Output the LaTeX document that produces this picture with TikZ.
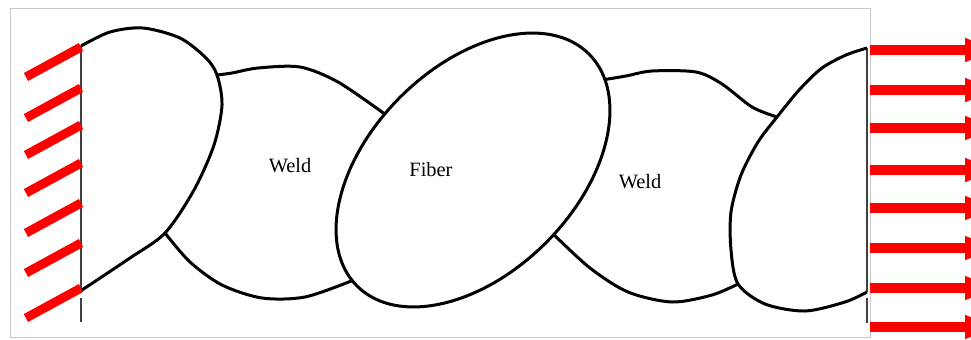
\documentclass[tikz,border=0pt]{standalone}
\usepackage{fontspec}
\setmainfont{Liberation Serif}
\usetikzlibrary{arrows.meta}
\definecolor{loadred}{RGB}{255,0,0}
\definecolor{wallgray}{RGB}{64,64,64}
\definecolor{framegray}{RGB}{200,200,200}
\tikzset{
  grain/.style={black, line width=0.06cm, line join=round},
  hatchline/.style={loadred, line width=0.18cm},
  loadarrow/.style={loadred, line width=0.2cm, -{Triangle[length=0.6cm, width=0.44cm]}},
  wallline/.style={wallgray, line width=0.05cm},
  partname/.style={font=\fontsize{11.6}{14}\selectfont, anchor=base}
}
\begin{document}
\begin{tikzpicture}[x=0.02cm, y=-0.02cm]
        \useasboundingbox (0,0) rectangle (971,339);
        % Frame
        \draw[framegray, line width=0.02cm] (10,8) rectangle (870,337);

        % Fixed wall on the left
        \draw[wallline] (81,46) -- (81,290) (81,298) -- (81,322);
        \foreach \y in {47,88,125,163,203,243,288}
            \draw[hatchline] (81,\y) -- ++(-55,30);

        % Pulled wall on the right
        \draw[wallline] (867,48) -- (867,292) (867,298) -- (867,323);
        \foreach \y in {50,90,128,170,208,248,288,327}
            \draw[loadarrow] (870,\y) -- (995,\y);

        % Fiber in the middle
        \begin{scope}[shift={(473,170)}, rotate=45]
            \draw[grain] (0,0) ellipse[x radius=164, y radius=103];
            \coordinate (fibUL) at (262:164 and 103);
            \coordinate (fibLL) at (184:164 and 103);
            \coordinate (fibUR) at (16.5:164 and 103);
            \coordinate (fibLR) at (86:164 and 103);
        \end{scope}

        % Junctions of the side grains
        \coordinate (leftA) at (217,75);
        \coordinate (leftB) at (165,233);
        \coordinate (rightA) at (777,117);
        \coordinate (rightB) at (738,284);

        % Left grain, cut by the wall
        \draw[grain] plot[smooth] coordinates {(81,46) (110,32) (143,28) (180,38) (206,58) (leftA) (222,105) (214,145) (194,190) (leftB) (130,258) (82,290)};

        % First weld
        \draw[grain] plot[smooth] coordinates {(leftA) (232,73) (258,68) (300,67) (338,82) (fibUL)};
        \draw[grain] plot[smooth] coordinates {(leftB) (190,262) (222,285) (262,298) (305,297) (fibLL)};

        % Second weld
        \draw[grain] plot[smooth] coordinates {(fibUR) (626,76) (652,71) (696,72) (722,84) (752,107) (rightA)};
        \draw[grain] plot[smooth] coordinates {(fibLR) (590,268) (628,292) (672,302) (712,295) (rightB)};

        % Right grain, cut by the wall
        \draw[grain] plot[smooth] coordinates {(867,48) (846,55) (822,68) (800,89) (rightA) (758,142) (741,175) (731,212) (731,250) (rightB) (765,304) (805,311) (845,302) (867,292)};

        % Labels
        \node[partname] (weldL) at (290,172) {Weld};
        \node[partname] (fibtext) at (431,176) {Fiber};
        \node[partname] (weldR) at (640,188) {Weld};
    \end{tikzpicture}
\end{document}
